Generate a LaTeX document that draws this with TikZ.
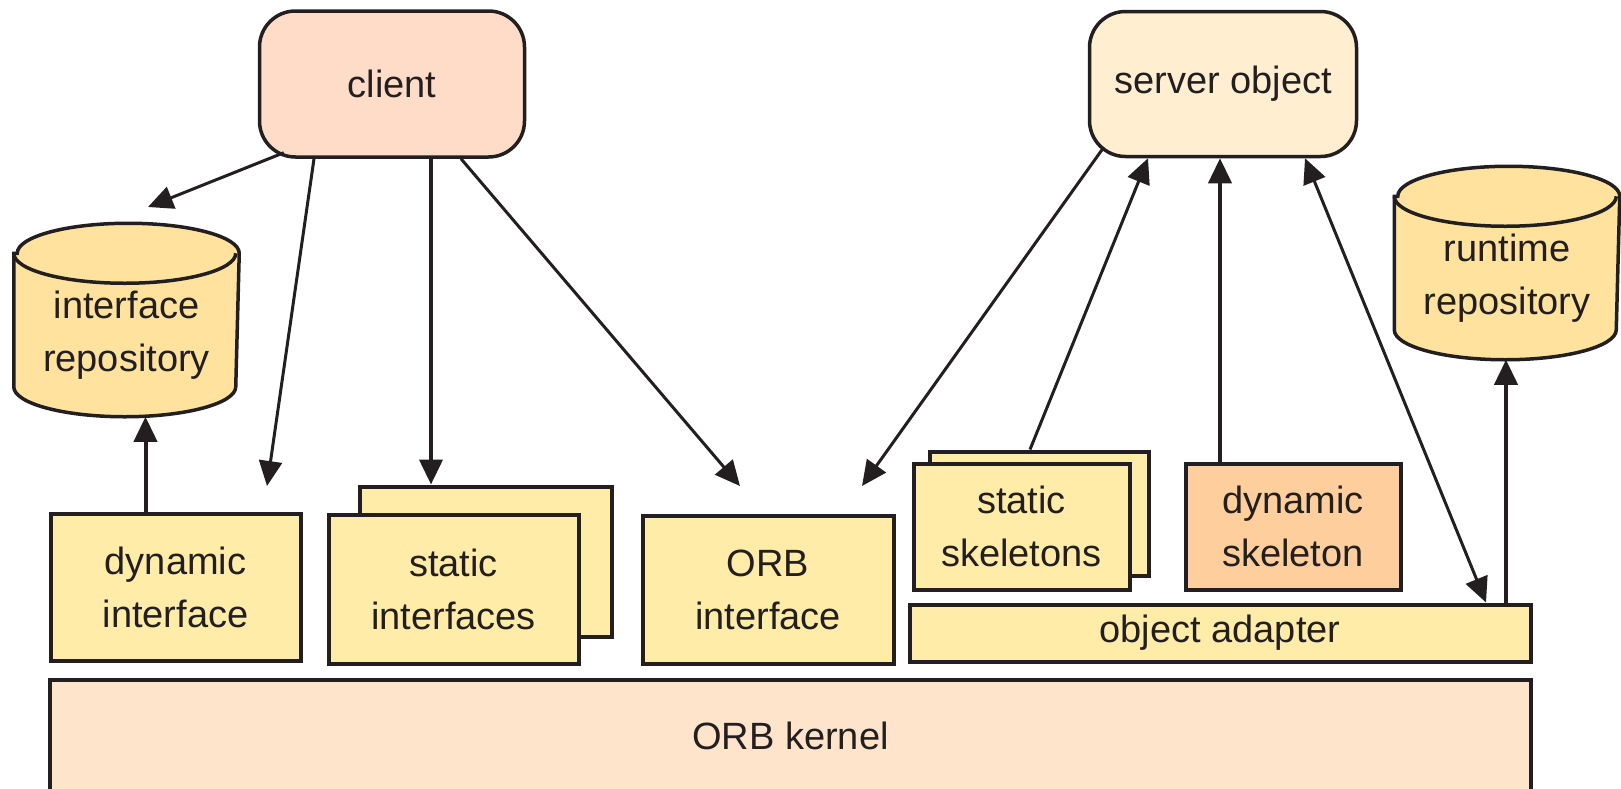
\documentclass[tikz,border=0pt]{standalone}
\usepackage{fontspec}
\setmainfont{Liberation Sans}
\usetikzlibrary{arrows.meta}

\definecolor{clientfill}{RGB}{255,220,200}
\definecolor{serverfill}{RGB}{255,238,208}
\definecolor{repofill}{RGB}{254,226,158}
\definecolor{partfill}{RGB}{255,236,168}
\definecolor{dynfill}{RGB}{254,207,156}
\definecolor{kernelfill}{RGB}{254,228,203}
\definecolor{ink}{RGB}{35,31,32}

\pgfdeclarelayer{background}
\pgfsetlayers{background,main}

\tikzset{
  host/.style={draw=ink, line width=3.5pt, rounded corners=36pt, align=center, inner sep=0pt},
  repo/.style={align=center, inner sep=0pt, outer sep=1.75pt, minimum width=222pt, minimum height=160pt},
  shell/.style={draw=ink, line width=3.5pt, fill=repofill},
  part/.style={draw=ink, line width=4pt, fill=partfill, align=center, inner sep=0pt},
  flow/.style={draw=ink, line width=3pt, -{Triangle[length=25pt,width=23pt]}},
  heavy/.style={line width=4pt}
}

\begin{document}
\begin{tikzpicture}[x=1pt, y=-1pt, font=\fontsize{38}{53}\selectfont, text=ink]
  \useasboundingbox (0,0) rectangle (1621,788);

  % client and server on top
  \node[host, fill=clientfill, minimum width=265pt, minimum height=146pt] (client) at (392,84) {client};
  \node[host, fill=serverfill, minimum width=267pt, minimum height=145pt] (server) at (1223,84) {server object};

  % repositories, the drum is drawn behind the text
  \node[repo] (ifrepo) at (126.5,335) {interface\\repository};
  \node[repo] (rtrepo) at (1507,278) {runtime\\repository};
  \begin{pgfonlayer}{background}
    \foreach \r in {ifrepo,rtrepo} {
      \draw[shell] (\r.north west) -- ([yshift=30pt]\r.south west)
        arc[start angle=180, end angle=360, x radius=111pt, y radius=30pt]
        -- (\r.north east)
        arc[start angle=0, end angle=180, x radius=111pt, y radius=30pt] -- cycle;
      \draw[shell, fill=none] (\r.north west)
        arc[start angle=180, end angle=360, x radius=111pt, y radius=30pt];
    }
  \end{pgfonlayer}

  % client side
  \node[part, minimum width=250pt, minimum height=147pt] (dynif) at (175.5,587) {dynamic\\interface};
  \node[part, minimum width=252pt, minimum height=150pt] (statifb) at (485.5,561.5) {};
  \node[part, minimum width=250pt, minimum height=149pt] (statif) at (453.5,589) {static\\interfaces};
  \node[part, minimum width=251pt, minimum height=148pt] (orbif) at (768,589.5) {ORB\\interface};

  % server side
  \node[part, minimum width=219pt, minimum height=124pt] (statskb) at (1039,513.5) {};
  \node[part, minimum width=216pt, minimum height=126pt] (statsk) at (1021.5,526.5) {static\\skeletons};
  \node[part, fill=dynfill, minimum width=215pt, minimum height=126pt] (dynsk) at (1293,526.5) {dynamic\\skeleton};
  \node[part, minimum width=621pt, minimum height=57pt] (adapter) at (1220,633) {object adapter};

  \node[part, fill=kernelfill, minimum width=1481pt, minimum height=112pt] (kernel) at (790.5,736) {ORB kernel};

  % free ends
  \coordinate (ifrepo in) at (148,207);
  \coordinate (dynif in) at (267,486);
  \coordinate (orbif in) at (740,486);
  \coordinate (orbif up) at (862,486);

  \draw[flow] ([shift={(26pt,6pt)}]client.south west) -- (ifrepo in);
  \draw[flow] ([xshift=-78pt]client.south) -- (dynif in);
  \draw[flow, heavy] ([xshift=39pt]client.south) -- ([xshift=39pt]client.south |- statifb.north);
  \draw[flow] ([xshift=69pt]client.south) -- (orbif in);
  \draw[flow, heavy] ([xshift=-30pt]dynif.north) -- ([xshift=-30pt]dynif.north |- ifrepo.south);

  \draw[flow] ([shift={(16pt,11pt)}]server.south west) -- (orbif up);
  \draw[flow] ([xshift=-9pt]statskb.north) -- ([xshift=-75pt]server.south);
  \draw[flow, heavy] ([xshift=-73pt]dynsk.north) -- ([xshift=-73pt]dynsk.north |- server.south);
  \draw[flow, {Triangle[length=25pt,width=23pt]}-{Triangle[length=25pt,width=23pt]}]
    ([xshift=82pt]server.south) -- ([xshift=266pt]adapter.north);
  \draw[flow, heavy] ([xshift=286pt]adapter.north) -- ([xshift=286pt]adapter.north |- rtrepo.south);
\end{tikzpicture}
\end{document}
